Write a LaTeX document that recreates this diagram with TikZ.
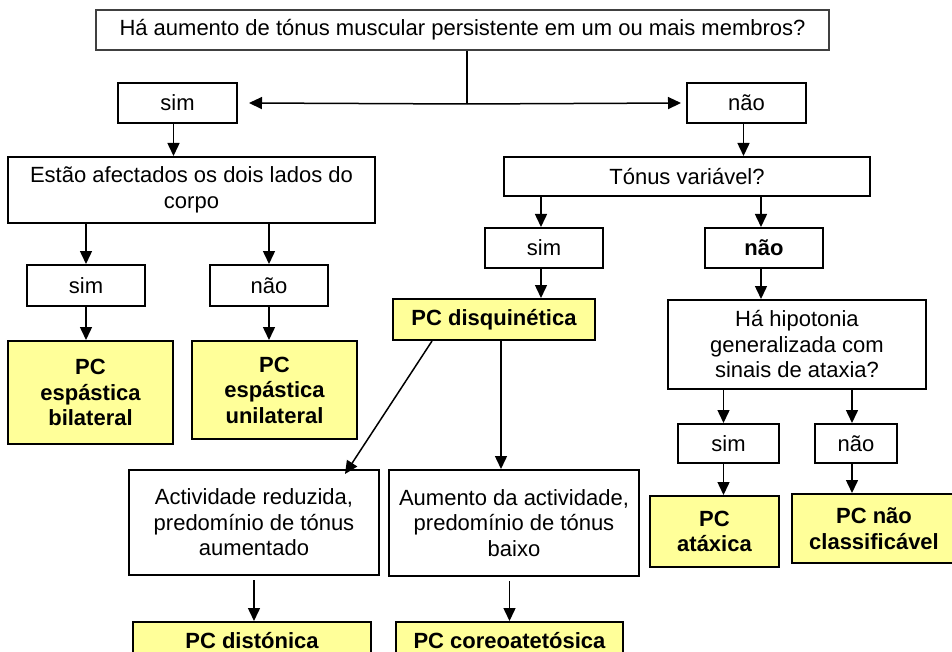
\documentclass[tikz,border=0pt]{standalone}
\usepackage{fontspec}
\setmainfont{Liberation Sans}
\usetikzlibrary{arrows.meta}
\definecolor{yel}{HTML}{FFFF99}
\begin{document}
\begin{tikzpicture}[x=1pt,y=-1pt,
  every node/.style={font=\fontsize{22}{25.5}\selectfont},
  wbox/.style={draw, line width=2pt, fill=white, inner sep=0pt, align=center},
  ybox/.style={wbox, fill=yel, font=\fontsize{22}{25.5}\selectfont\bfseries},
  arr/.style={line width=1.5pt, -{Triangle[length=13pt,width=12pt]}}]
\useasboundingbox[fill=white] (0,0) rectangle (952,652);
% nodes
\node[wbox, draw=black!75, line width=1.6pt, minimum width=733, minimum height=40] (top) at (462.5,30) {\raisebox{-4pt}{Há aumento de tónus muscular persistente em um ou mais membros?}};
\node[wbox, minimum width=119, minimum height=40] (sim1) at (177.5,103) {sim};
\node[wbox, minimum width=119, minimum height=40] (no1) at (746.5,103) {não};
\node[wbox, minimum width=367, minimum height=66] (estao) at (191.5,190) {Estão afectados os dois lados do\\corpo};
\node[wbox, minimum width=118, minimum height=41] (sim2) at (86,285.5) {sim};
\node[wbox, minimum width=118, minimum height=41] (nao2) at (269,285.5) {não};
\node[ybox, minimum width=165, minimum height=103] (bil) at (90.5,392.5) {PC\\espástica\\bilateral};
\node[ybox, minimum width=165, minimum height=98] (uni) at (274.5,390) {PC\\espástica\\unilateral};
\node[wbox, minimum width=366, minimum height=39] (tonus) at (687,176.5) {Tónus variável?};
\node[wbox, minimum width=118, minimum height=40] (sim3) at (544,248) {sim};
\node[wbox, minimum width=118, minimum height=40, font=\fontsize{22}{25.5}\selectfont\bfseries] (nao3) at (764,248) {não};
\node[ybox, minimum width=202, minimum height=41] (disq) at (494,319.5) {PC disquinética};
\node[wbox, minimum width=258, minimum height=89] (ha) at (797,344.5) {Há hipotonia\\generalizada com\\sinais de ataxia?};
\node[wbox, minimum width=101, minimum height=39] (sim4) at (728.5,443.5) {sim};
\node[wbox, minimum width=82, minimum height=39] (nao4) at (856,443.5) {não};
\node[ybox, minimum width=129, minimum height=71] (atax) at (714.5,531.5) {PC\\atáxica};
\node[ybox, minimum width=164, minimum height=69] (naocl) at (874,528.5) {PC não\\classificável};
\node[wbox, minimum width=250, minimum height=105] (activ) at (254,522.5) {Actividade reduzida,\\predomínio de tónus\\aumentado};
\node[wbox, minimum width=250, minimum height=106] (aument) at (514,523) {Aumento da actividade,\\predomínio de tónus\\baixo};
\node[ybox, minimum width=238, minimum height=38] (dist) at (252,641) {PC distónica};
\node[ybox, minimum width=227, minimum height=38] (coreo) at (509.5,641) {PC coreoatetósica};
% connectors
\coordinate (j) at (467,104);
\draw[line width=1.5pt] (top.south -| j) -- (j);
\draw[arr] (j) -- ([xshift=11]sim1.east);
\draw[arr] (j) -- ([xshift=-5]no1.west);
\draw[arr] ([xshift=-4]sim1.south) -- ([xshift=-4]sim1.south |- estao.north);
\draw[arr] (sim2.north |- estao.south) -- (sim2.north);
\draw[arr] (nao2.north |- estao.south) -- (nao2.north);
\draw[arr] (sim2.south) -- (sim2.south |- bil.north);
\draw[arr] (nao2.south) -- (nao2.south |- uni.north);
\draw[arr] ([xshift=-3]no1.south) -- ([xshift=-3]no1.south |- tonus.north);
\draw[arr] ([xshift=-3]sim3.north |- tonus.south) -- ([xshift=-3]sim3.north);
\draw[arr] ([xshift=-3]nao3.north |- tonus.south) -- ([xshift=-3]nao3.north);
\draw[arr] ([xshift=-3]sim3.south) -- ([xshift=-3]sim3.south |- disq.north);
\draw[arr] ([xshift=-3]nao3.south) -- ([xshift=-3]nao3.south |- ha.north);
\draw[arr] ([xshift=-5]sim4.north |- ha.south) -- ([xshift=-5]sim4.north);
\draw[arr] ([xshift=-4]nao4.north |- ha.south) -- ([xshift=-4]nao4.north);
\draw[arr] ([xshift=-5]sim4.south) -- ([xshift=-5]sim4.south |- atax.north);
\draw[arr] ([xshift=-4]nao4.south) -- ([xshift=-4]nao4.south |- naocl.north);
\draw[arr] ([xshift=40]disq.south west) -- ([xshift=91,yshift=-5]activ.north);
\draw[arr] ([xshift=7]disq.south) -- ([xshift=7]disq.south |- aument.north);
\draw[arr, shorten <=4pt] (activ.south) -- (activ.south |- dist.north);
\draw[arr, shorten <=4pt] (coreo.north |- aument.south) -- (coreo.north);
\end{tikzpicture}
\end{document}
